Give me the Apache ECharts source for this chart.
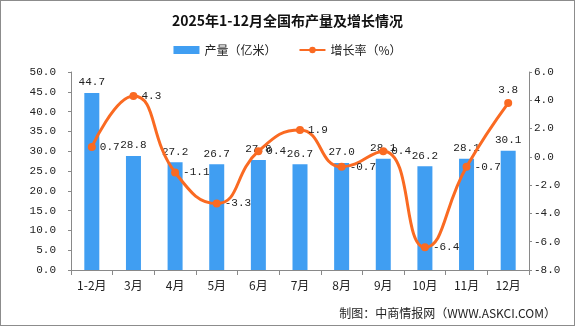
<!DOCTYPE html>
<html>
<head>
<meta charset="utf-8">
<script src="https://cdn.jsdelivr.net/npm/echarts@6/dist/echarts.min.js"></script>
<style>
  html, body { margin: 0; padding: 0; background: #fff; }
  #chart { width: 575px; height: 326px; box-sizing: border-box; border: 1px solid #8c8c8c; }
</style>
</head>
<body>
<div id="chart"></div>
<script>
// 2025年1-12月全国布产量及增长率
const months = ['1-2月', '3月', '4月', '5月', '6月', '7月', '8月', '9月', '10月', '11月', '12月'];
const output = [44.7, 28.8, 27.2, 26.7, 27.8, 26.7, 27.0, 28.1, 26.2, 28.1, 30.1];
const growth = [0.7, 4.3, -1.1, -3.3, 0.4, 1.9, -0.7, 0.4, -6.4, -0.7, 3.8];

const cjk = '"Noto Sans CJK SC", sans-serif';
const mono = '"Liberation Mono", monospace';
const axisColor = '#898989';

const chart = echarts.init(document.getElementById('chart'));
chart.setOption({
  animation: false,
  title: {
    text: '2025年1-12月全国布产量及增长情况',
    left: 'center',
    top: 8,
    textStyle: { fontFamily: cjk, fontSize: 14, fontWeight: 'bold', color: '#111' }
  },
  legend: {
    top: 38,
    left: 'center',
    itemGap: 22,
    itemWidth: 26,
    itemHeight: 8,
    textStyle: { fontFamily: cjk, fontSize: 12, color: '#222' },
    data: [
      { name: '产量（亿米）', icon: 'rect' },
      { name: '增长率（%）' }
    ]
  },
  grid: { left: 70, right: 45, top: 71, bottom: 55 },
  xAxis: {
    type: 'category',
    data: months,
    axisLine: { lineStyle: { color: axisColor } },
    axisTick: { show: true, alignWithLabel: false, length: 5, lineStyle: { color: axisColor } },
    axisLabel: { fontFamily: cjk, fontSize: 12, color: '#222', margin: 9 }
  },
  yAxis: [
    {
      type: 'value', min: 0, max: 50, interval: 5,
      axisLine: { show: true, lineStyle: { color: axisColor } },
      axisTick: { show: true, length: 3, lineStyle: { color: axisColor } },
      splitLine: { show: false },
      axisLabel: { formatter: v => v.toFixed(1), fontFamily: mono, fontSize: 11, color: '#222', margin: 15 }
    },
    {
      type: 'value', min: -8, max: 6, interval: 2,
      axisLine: { show: true, lineStyle: { color: axisColor } },
      axisTick: { show: true, length: 3, lineStyle: { color: axisColor } },
      splitLine: { show: false },
      axisLabel: { formatter: v => v.toFixed(1), fontFamily: mono, fontSize: 11, color: '#222', margin: 5 }
    }
  ],
  series: [
    {
      name: '产量（亿米）',
      type: 'bar',
      yAxisIndex: 0,
      barWidth: 15,
      data: output,
      itemStyle: { color: '#409EF2' },
      label: {
        show: true, position: 'top', distance: 5,
        formatter: p => p.value.toFixed(1),
        fontFamily: mono, fontSize: 11, color: '#222'
      }
    },
    {
      name: '增长率（%）',
      type: 'line',
      yAxisIndex: 1,
      smooth: 0.5,
      symbol: 'circle',
      symbolSize: 8,
      data: growth.map((v, i) => ({
        value: v,
        label: i === growth.length - 1 ? { position: 'top', distance: 4 } : undefined
      })),
      lineStyle: { color: '#FA6A22', width: 3 },
      itemStyle: { color: '#FA6A22' },
      label: {
        show: true, position: 'right', distance: 4,
        formatter: p => p.value.toFixed(1),
        fontFamily: mono, fontSize: 11, color: '#222'
      },
      z: 5
    }
  ],
  graphic: [
    {
      type: 'text',
      right: 18,
      bottom: 6,
      style: { text: '制图：中商情报网（WWW.ASKCI.COM）', font: '12px "Noto Sans CJK SC", sans-serif', fill: '#222' }
    }
  ]
});
</script>
</body>
</html>
